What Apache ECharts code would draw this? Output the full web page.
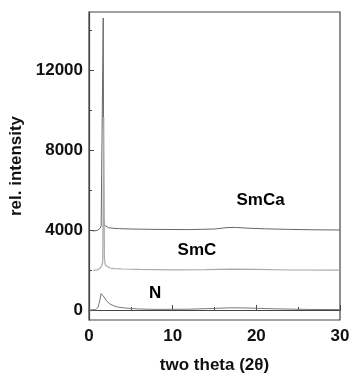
<!DOCTYPE html>
<html><head><meta charset="utf-8">
<script src="https://cdn.jsdelivr.net/npm/echarts@6/dist/echarts.min.js"></script>
<style>html,body{margin:0;padding:0;background:#fff}#c{width:352px;height:374px}</style>
</head><body><div id="c"></div>
<script>
var smcaX = [0.5, 1.0, 1.3, 1.45, 1.55, 1.62, 1.7, 1.76, 1.84, 2.0, 2.3, 2.8, 3.5, 5, 8, 12, 15, 16.5, 17.5, 19, 21, 24, 27, 30];
var smcaY = [3950, 3980, 4080, 4200, 4150, 4250, 14600, 4500, 4250, 4160, 4120, 4090, 4070, 4050, 4030, 4020, 4050, 4120, 4130, 4090, 4060, 4030, 4010, 4000];
var smcX = [0.5, 1.0, 1.3, 1.5, 1.64, 1.76, 1.84, 1.94, 2.1, 2.5, 3, 4, 6, 10, 14, 17, 20, 24, 30];
var smcY = [1980, 2010, 2080, 2200, 2400, 9650, 2600, 2250, 2150, 2100, 2070, 2050, 2030, 2010, 2020, 2040, 2030, 2000, 1990];
var nX = [0.0, 0.8, 1.1, 1.3, 1.45, 1.55, 1.8, 2.1, 2.5, 3, 3.5, 4.5, 6, 8, 12, 15, 17, 19, 22, 26, 30];
var nY = [0, 20, 150, 500, 820, 860, 650, 450, 300, 200, 140, 90, 50, 30, 40, 80, 110, 100, 60, 30, 20];
var yTicks = [0, 4000, 8000, 12000];
var yMinorTicks = [2000, 6000, 10000, 14000];
var labelNames = ['SmCa', 'SmC', 'N'];
var labelX = [20.5, 12.9, 7.9];
var labelY = [5500, 3000, 850];

function pairs(xs, ys){ return xs.map(function(x,i){return [x, ys[i]];}); }
var font = {fontFamily: 'Liberation Sans, Arial, sans-serif', fontWeight: 'bold', fontSize: 17, color: '#111'};
var axisCol = '#444';
var chart = echarts.init(document.getElementById('c'));
chart.setOption({
  animation: false,
  grid: {left: 89, right: 12, top: 12, bottom: 54, outerBoundsMode: 'none', containLabel: false, show: true, borderColor: axisCol, borderWidth: 1.2},
  xAxis: {
    type: 'value', min: 0, max: 30, interval: 10,
    name: 'two theta (2θ)', nameLocation: 'middle', nameGap: 37,
    nameTextStyle: font,
    axisLine: {lineStyle: {color: axisCol, width: 1.2}},
    axisTick: {inside: true, length: 5, lineStyle: {color: axisCol}},
    minorTick: {show: true, splitNumber: 2, length: 3, lineStyle: {color: axisCol}},
    axisLabel: Object.assign({margin: 8, formatter: function(v){return String(v);}}, font),
    splitLine: {show: false}
  },
  yAxis: [{
    type: 'value', min: -500, max: 14900,
    name: 'rel. intensity', nameLocation: 'middle', nameGap: 59,
    nameTextStyle: font,
    axisLine: {show: true, lineStyle: {color: axisCol, width: 1.2}},
    axisTick: {inside: true, length: 5, customValues: yTicks, lineStyle: {color: axisCol}},
    axisLabel: Object.assign({margin: 6, customValues: yTicks, formatter: function(v){return String(v);}}, font),
    splitLine: {show: false}
  }, {
    type: 'value', min: -500, max: 14900, position: 'left',
    axisLine: {show: false},
    axisTick: {show: true, inside: true, length: 3, customValues: yMinorTicks, lineStyle: {color: axisCol}},
    axisLabel: {show: false, customValues: yMinorTicks},
    splitLine: {show: false}
  }],
  series: [
    {type: 'line', name: 'SmCa', data: pairs(smcaX, smcaY), showSymbol: false, lineStyle: {color: '#666', width: 1}},
    {type: 'line', name: 'N', data: pairs(nX, nY), showSymbol: false, lineStyle: {color: '#777', width: 1}},
    {type: 'line', name: 'SmC', data: pairs(smcX, smcY), showSymbol: false, lineStyle: {color: '#aaa', width: 1.2}},
    {type: 'scatter', symbolSize: 0, silent: true, itemStyle: {opacity: 1},
      data: labelNames.map(function(n,i){return {value:[labelX[i], labelY[i]], name:n};}),
      label: Object.assign({show: true, position: 'inside', formatter: '{b}', opacity: 1, textBorderWidth: 0}, font, {color: '#000'})}
  ]
});
</script></body></html>
